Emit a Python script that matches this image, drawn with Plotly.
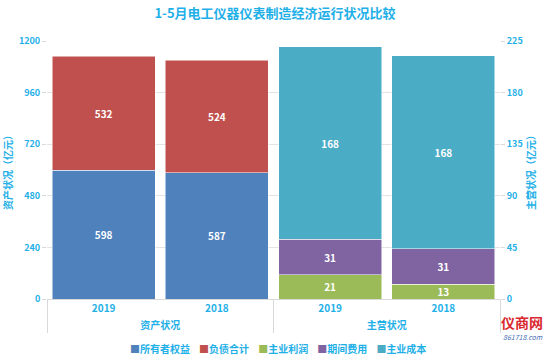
import plotly.graph_objects as go

groups = ["资产状况", "主营状况"]
years = ["2019", "2018"]
equity = [598, 587]        # 所有者权益
liability = [532, 524]     # 负债合计
profit = [21, 13]          # 主业利润
expense = [31, 31]         # 期间费用
cost = [168, 168]          # 主业成本
left_ticks = [0, 240, 480, 720, 960, 1200]
right_ticks = [0, 45, 90, 135, 180, 225]
series_names = ["所有者权益", "负债合计", "主业利润", "期间费用", "主业成本"]
series_colors = ["#4F81BD", "#C0504D", "#9BBB59", "#8064A2", "#4BACC6"]

BLUE_TXT = "#1FB0E8"
FONT = "Noto Sans CJK SC"

xa = [[groups[0]] * 2, years]
xb = [[groups[1]] * 2, years]

fig = go.Figure()

def add(i, x, y, yaxis):
    fig.add_trace(go.Bar(
        name=series_names[i], x=x, y=y, yaxis=yaxis,
        marker=dict(color=series_colors[i], line=dict(color="white", width=0.5)),
        text=y, texttemplate="<b>%{text}</b>", textposition="inside",
        insidetextanchor="middle", textangle=0, constraintext="none",
        textfont=dict(color="white", size=10, family=FONT),
        showlegend=False,
    ))

add(0, xa, equity, "y")
add(1, xa, liability, "y")
add(2, xb, profit, "y2")
add(3, xb, expense, "y2")
add(4, xb, cost, "y2")

tickfont = dict(size=9, color=BLUE_TXT, family=FONT, weight="bold")

fig.update_layout(
    width=550, height=359,
    margin=dict(l=47, r=50, t=41, b=60, autoexpand=False),
    barmode="stack", bargap=0.09,
    plot_bgcolor="white", paper_bgcolor="white",
    font=dict(family=FONT, color=BLUE_TXT),
    title=dict(text="<b>1-5月电工仪器仪表制造经济运行状况比较</b>",
               x=0.5, xanchor="center", y=0.962, yanchor="middle",
               font=dict(size=13, color=BLUE_TXT, family=FONT)),
    xaxis=dict(type="multicategory", showdividers=True, dividercolor="#D9D9D9",
               dividerwidth=1, showline=True, linecolor="#D9D9D9", automargin=False,
               tickfont=dict(size=10, color=BLUE_TXT, family=FONT, weight="bold"), ticks=""),
    yaxis=dict(range=[0, 1200], tickvals=left_ticks, showgrid=True, automargin=False,
               gridcolor="#E3E3E3", zeroline=False,
               ticks="outside", ticklen=4, tickcolor="#D9D9D9",
               tickfont=tickfont,
               title=dict(text="<b>资产状况（亿元）</b>", standoff=8,
                          font=dict(size=10, color=BLUE_TXT, family=FONT))),
    yaxis2=dict(range=[0, 225], tickvals=right_ticks, overlaying="y", side="right",
                showgrid=False, zeroline=False, automargin=False,
                ticks="outside", ticklen=4, tickcolor="#D9D9D9",
                tickfont=tickfont,
                title=dict(text="<b>主营状况（亿元）</b>", standoff=4,
                           font=dict(size=10, color=BLUE_TXT, family=FONT))),
    showlegend=False,
)

# legend row built from the series names/colours
legend_text = "&nbsp;&nbsp;&nbsp;&nbsp;".join(
    f"<span style='color:{c}'>■</span>{n}" for n, c in zip(series_names, series_colors))
fig.add_annotation(text=legend_text, xref="paper", yref="paper",
                   x=0.51, y=-0.19, xanchor="center", yanchor="middle", showarrow=False,
                   font=dict(size=10, color=BLUE_TXT, family=FONT, weight="bold"))

fig.add_annotation(text="<b>仪商网</b>", xref="paper", yref="paper",
                   x=1.1, y=-0.09, xanchor="right", yanchor="middle", showarrow=False,
                   font=dict(size=14, color="#D9282F", family=FONT))
fig.add_annotation(text="<i>861718.com</i>", xref="paper", yref="paper",
                   x=1.1, y=-0.148, xanchor="right", yanchor="middle", showarrow=False,
                   font=dict(size=7, color="#4A6FB5", family=FONT))

fig.write_html("out.html", config={"displayModeBar": False},
               post_script="document.body.style.margin='0';document.body.style.overflow='hidden';")
